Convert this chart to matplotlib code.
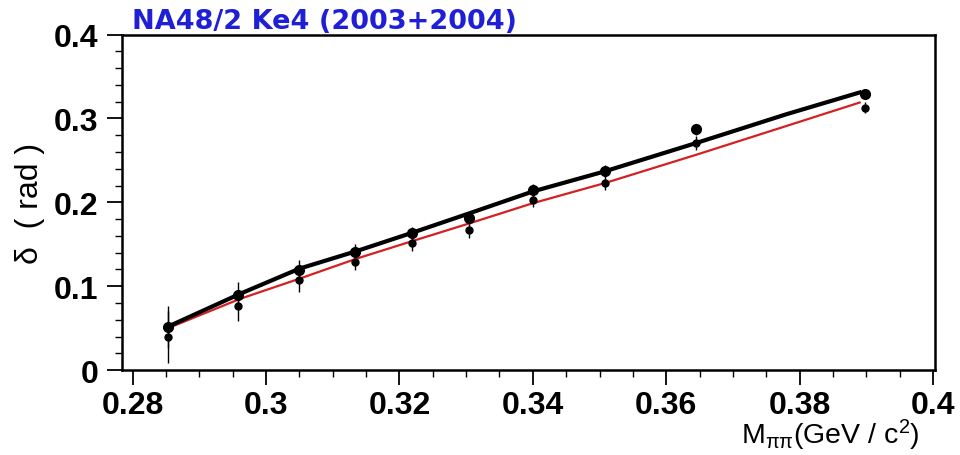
import numpy as np
import matplotlib.pyplot as plt
from matplotlib.ticker import MultipleLocator

# bin centres (GeV/c^2) and phase values (rad)
m_pipi = [0.2853, 0.2958, 0.3049, 0.3134, 0.3219, 0.3305, 0.3400, 0.3508, 0.3644, 0.3898]
delta_a = [0.052, 0.090, 0.119, 0.141, 0.163, 0.181, 0.215, 0.237, 0.287, 0.329]
err_a = [0.025, 0.015, 0.012, 0.009, 0.008, 0.008, 0.007, 0.007, 0.007, 0.006]
delta_b = [0.040, 0.077, 0.107, 0.129, 0.151, 0.167, 0.203, 0.223, 0.271, 0.313]
err_b = [0.031, 0.018, 0.014, 0.010, 0.009, 0.009, 0.008, 0.008, 0.008, 0.007]

# theory curves
curve_x = [0.2856, 0.2961, 0.3050, 0.3136, 0.3220, 0.3305, 0.3400, 0.3508, 0.3646, 0.3780, 0.3890]
curve_black = [0.053, 0.091, 0.121, 0.142, 0.164, 0.187, 0.213, 0.237, 0.271, 0.305, 0.331]
curve_red = [0.051, 0.085, 0.109, 0.133, 0.154, 0.175, 0.199, 0.223, 0.257, 0.291, 0.319]

xticks = [0.28, 0.30, 0.32, 0.34, 0.36, 0.38, 0.40]
xtick_labels = ["0.28", "0.3", "0.32", "0.34", "0.36", "0.38", "0.4"]
yticks = [0, 0.1, 0.2, 0.3, 0.4]
ytick_labels = ["0", "0.1", "0.2", "0.3", "0.4"]

plt.rcParams['font.family'] = ['Liberation Sans', 'DejaVu Sans']
plt.rcParams['mathtext.default'] = 'regular'

fig = plt.figure(figsize=(9.6, 4.56), dpi=100)
ax = fig.add_axes([0.127, 0.186, 0.847, 0.736])

ax.errorbar(m_pipi, delta_b, yerr=err_b, fmt='o', color='black', ms=5,
            elinewidth=1, capsize=0)
ax.errorbar(m_pipi, delta_a, yerr=err_a, fmt='o', color='black', ms=7,
            elinewidth=1, capsize=0)
ax.plot(curve_x, curve_red, color='#d42020', lw=1.6)
ax.plot(curve_x, curve_black, color='black', lw=3)

ax.set_xlim(0.2784, 0.4003)
ax.set_ylim(0, 0.4)
ax.set_xticks(xticks)
ax.set_xticklabels(xtick_labels)
ax.set_yticks(yticks)
ax.set_yticklabels(ytick_labels)
ax.xaxis.set_minor_locator(MultipleLocator(0.005))
ax.yaxis.set_minor_locator(MultipleLocator(0.02))
ax.tick_params(which='major', direction='out', length=11, width=1.3,
               labelsize=23, top=False, right=False)
ax.tick_params(which='minor', direction='out', length=5, width=1,
               top=False, right=False)
ax.tick_params(axis='y', pad=6)
ax.tick_params(axis='x', pad=3)
for lab in ax.get_xticklabels() + ax.get_yticklabels():
    lab.set_fontweight('bold')
for s in ax.spines.values():
    s.set_linewidth(1.8)

ax.set_ylabel("δ  ( rad )", fontsize=23, labelpad=6)
fig.text(0.958, 0.006, r"M$_{\pi\pi}$(GeV / c$^{2}$)", ha='right', va='bottom',
         fontsize=20.5)

fig.text(0.137, 0.952, "NA48/2 Ke4 (2003+2004)", color='#1f1fd6',
         fontsize=19.5, fontweight='bold', family='DejaVu Sans', va='center')

fig.savefig("out.png", dpi=100)
